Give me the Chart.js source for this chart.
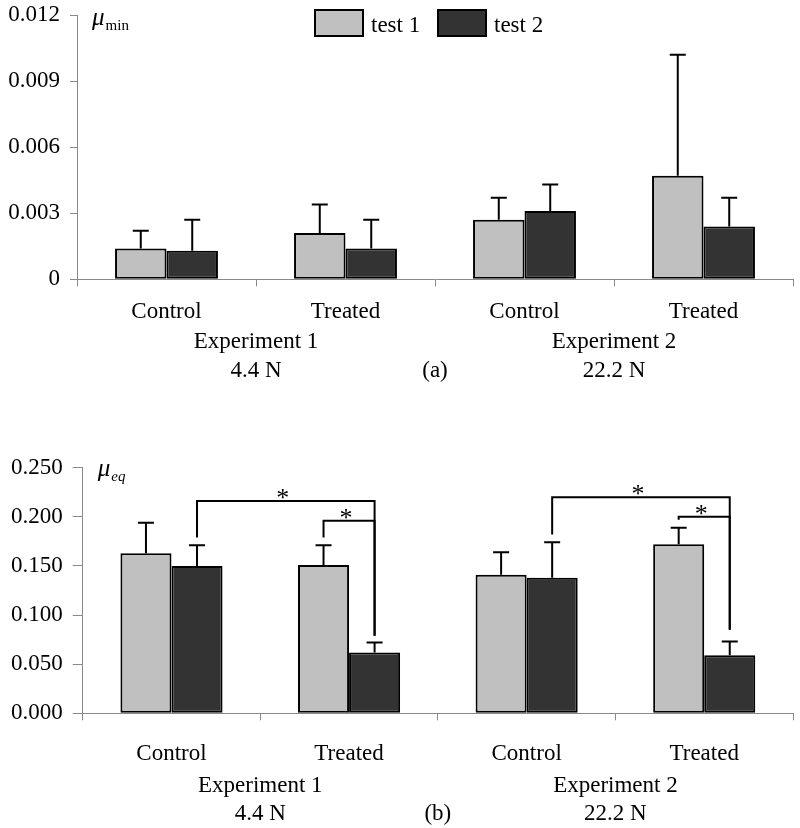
<!DOCTYPE html>
<html><head><meta charset="utf-8">
<script src="https://cdn.jsdelivr.net/npm/chart.js@4.4.1/dist/chart.umd.min.js"></script>
<style>
html,body{margin:0;padding:0;background:#fff;}
#wrapA{position:absolute;left:0;top:0;width:800px;height:420px;}
#wrapB{position:absolute;left:0;top:420px;width:800px;height:408px;}
</style></head><body>
<div id="wrapA"><canvas id="chartA" width="800" height="420"></canvas></div>
<div id="wrapB"><canvas id="chartB" width="800" height="408"></canvas></div>
<script>
// ---------- data ----------
const categories = ['Control', 'Treated', 'Control', 'Treated'];
const groupLabels = ['Experiment 1', 'Experiment 2'];
const loadLabels = ['4.4 N', '22.2 N'];
const seriesNames = ['test 1', 'test 2'];

// panel (a): mu_min
const minTest1 = [0.0014, 0.0021, 0.0027, 0.0047];
const minTest2 = [0.0013, 0.0014, 0.0031, 0.0024];
const minErrTop1 = [0.0022, 0.0034, 0.0037, 0.0102];
const minErrTop2 = [0.0027, 0.0027, 0.0043, 0.0037];
const minTickLabels = ['0', '0.003', '0.006', '0.009', '0.012'];

// panel (b): mu_eq
const eqTest1 = [0.163, 0.151, 0.141, 0.172];
const eqTest2 = [0.150, 0.062, 0.138, 0.059];
const eqErrTop1 = [0.194, 0.171, 0.164, 0.189];
const eqErrTop2 = [0.171, 0.072, 0.174, 0.073];
const eqTickLabels = ['0.000', '0.050', '0.100', '0.150', '0.200', '0.250'];

// significance brackets (b): [fromCat, fromSeries, fromEnd, toCat, toSeries, toEnd, level]
const eqBrackets = [
  [0, 1, 0.179, 1, 1, 0.079, 0.216],
  [1, 0, 0.179, 1, 1, 0.079, 0.196],
  [2, 1, 0.182, 3, 1, 0.085, 0.220],
  [3, 0, 0.197, 3, 1, 0.085, 0.200]
];

const FONT = '"Liberation Serif", "Times New Roman", serif';
const colors = ['#c0c0c0', '#333333'];
const axisGray = '#8a8a8a';

// ---------- plugins ----------
function errorBars(errs) {
  return {
    id: 'errorBars',
    afterDatasetsDraw(chart) {
      const ctx = chart.ctx, ys = chart.scales.y;
      ctx.save();
      ctx.strokeStyle = '#000'; ctx.lineWidth = 2;
      errs.forEach((arr, di) => {
        const meta = chart.getDatasetMeta(di);
        arr.forEach((v, j) => {
          const bar = meta.data[j];
          const yt = ys.getPixelForValue(v);
          ctx.beginPath();
          ctx.moveTo(bar.x, bar.y); ctx.lineTo(bar.x, yt);
          ctx.moveTo(bar.x - 8, yt); ctx.lineTo(bar.x + 8, yt);
          ctx.stroke();
        });
      });
      ctx.restore();
    }
  };
}

function groupText(panelLabel, off1, off2) {
  return {
    id: 'groupText',
    afterDraw(chart) {
      const ctx = chart.ctx, xs = chart.scales.x, ca = chart.chartArea;
      ctx.save();
      ctx.font = '23px ' + FONT; ctx.fillStyle = '#000';
      ctx.textAlign = 'center'; ctx.textBaseline = 'alphabetic';
      for (let g = 0; g < groupLabels.length; g++) {
        const cx = (xs.getPixelForValue(2 * g) + xs.getPixelForValue(2 * g + 1)) / 2;
        ctx.fillText(groupLabels[g], cx, ca.bottom + off1);
        ctx.fillText(loadLabels[g], cx, ca.bottom + off2);
      }
      ctx.fillText(panelLabel, (ca.left + ca.right) / 2, ca.bottom + off2);
      ctx.restore();
    }
  };
}

function axisSymbol(sub, subItalic, dy) {
  return {
    id: 'axisSymbol',
    afterDraw(chart) {
      const ctx = chart.ctx, ca = chart.chartArea;
      ctx.save();
      ctx.fillStyle = '#000'; ctx.textAlign = 'left'; ctx.textBaseline = 'alphabetic';
      ctx.font = 'italic 25px ' + FONT;
      const x0 = ca.left + 15, y0 = ca.top + dy;
      ctx.fillText('\u03bc', x0, y0);
      const w = ctx.measureText('\u03bc').width;
      ctx.font = (subItalic ? 'italic ' : '') + '15px ' + FONT;
      ctx.fillText(sub, x0 + w + 1, y0 + 5);
      ctx.restore();
    }
  };
}

const legendPlugin = {
  id: 'boxLegend',
  afterDraw(chart) {
    const ctx = chart.ctx;
    const items = chart.data.datasets;
    const starts = [314, 437];
    ctx.save();
    ctx.font = '23px ' + FONT; ctx.textBaseline = 'alphabetic'; ctx.textAlign = 'left';
    items.forEach((ds, i) => {
      const x = starts[i];
      ctx.fillStyle = ds.backgroundColor;
      ctx.fillRect(x, 9, 50, 28);
      ctx.strokeStyle = '#000'; ctx.lineWidth = 2;
      ctx.strokeRect(x + 1, 10, 48, 26);
      ctx.fillStyle = '#000';
      ctx.fillText(ds.label, x + 57, 32);
    });
    ctx.restore();
  }
};

function brackets(list) {
  return {
    id: 'brackets',
    afterDatasetsDraw(chart) {
      const ctx = chart.ctx, ys = chart.scales.y;
      ctx.save();
      ctx.strokeStyle = '#000'; ctx.lineWidth = 2; ctx.fillStyle = '#000';
      ctx.font = '26px ' + FONT; ctx.textAlign = 'center'; ctx.textBaseline = 'alphabetic';
      list.forEach(b => {
        const x1 = chart.getDatasetMeta(b[1]).data[b[0]].x;
        const x2 = chart.getDatasetMeta(b[4]).data[b[3]].x;
        const y1 = ys.getPixelForValue(b[2]);
        const y2 = ys.getPixelForValue(b[5]);
        const yl = ys.getPixelForValue(b[6]);
        ctx.beginPath();
        ctx.moveTo(x1, y1); ctx.lineTo(x1, yl); ctx.lineTo(x2, yl); ctx.lineTo(x2, y2);
        ctx.stroke();
        ctx.fillText('*', (x1 + x2) / 2 - 3, yl + 5);
      });
      ctx.restore();
    }
  };
}

// ---------- chart factory ----------
function makeChart(id, d1, d2, yMax, step, tickLabels, yWidth, xHeight, padTop, xPad, yTickLen, extraPlugins) {
  return new Chart(document.getElementById(id), {
    type: 'bar',
    data: {
      labels: categories,
      datasets: [
        { label: seriesNames[0], data: d1, backgroundColor: colors[0], borderColor: '#000', borderWidth: 2, borderSkipped: false },
        { label: seriesNames[1], data: d2, backgroundColor: colors[1], borderColor: '#000', borderWidth: 2, borderSkipped: false }
      ]
    },
    options: {
      responsive: false,
      animation: false,
      layout: { padding: { top: padTop, right: 7, left: 0, bottom: 0 } },
      datasets: { bar: { categoryPercentage: 0.575, barPercentage: 1.0 } },
      plugins: { legend: { display: false }, tooltip: { enabled: false }, title: { display: false } },
      scales: {
        x: {
          offset: true,
          grid: { offset: true, drawOnChartArea: false, drawTicks: true, tickLength: 7, color: axisGray },
          border: { color: axisGray, width: 1 },
          ticks: { font: { family: FONT, size: 23 }, color: '#000', padding: xPad, maxRotation: 0 },
          afterFit(s) { s.height = xHeight; s.paddingLeft = 0; s.paddingRight = 0; }
        },
        y: {
          min: 0, max: yMax,
          grid: { drawOnChartArea: false, drawTicks: true, tickLength: yTickLen, color: axisGray },
          border: { color: axisGray, width: 1 },
          ticks: { stepSize: step, font: { family: FONT, size: 23 }, color: '#000', padding: 10,
                   callback: (v, i) => tickLabels[i] },
          afterFit(s) { s.width = yWidth; s.paddingTop = 0; s.paddingBottom = 0; }
        }
      }
    },
    plugins: extraPlugins
  });
}

makeChart('chartA', minTest1, minTest2, 0.012, 0.003, minTickLabels, 77, 140.7, 15, 12, 7,
  [errorBars([minErrTop1, minErrTop2]), groupText('(a)', 69, 97.4), axisSymbol('min', false, 10), legendPlugin]);

makeChart('chartB', eqTest1, eqTest2, 0.25, 0.05, eqTickLabels, 82.7, 114.7, 47.7, 20, 10,
  [brackets(eqBrackets), errorBars([eqErrTop1, eqErrTop2]), groupText('(b)', 78.4, 106.7), axisSymbol('eq', true, 8)]);
</script>
</body></html>
